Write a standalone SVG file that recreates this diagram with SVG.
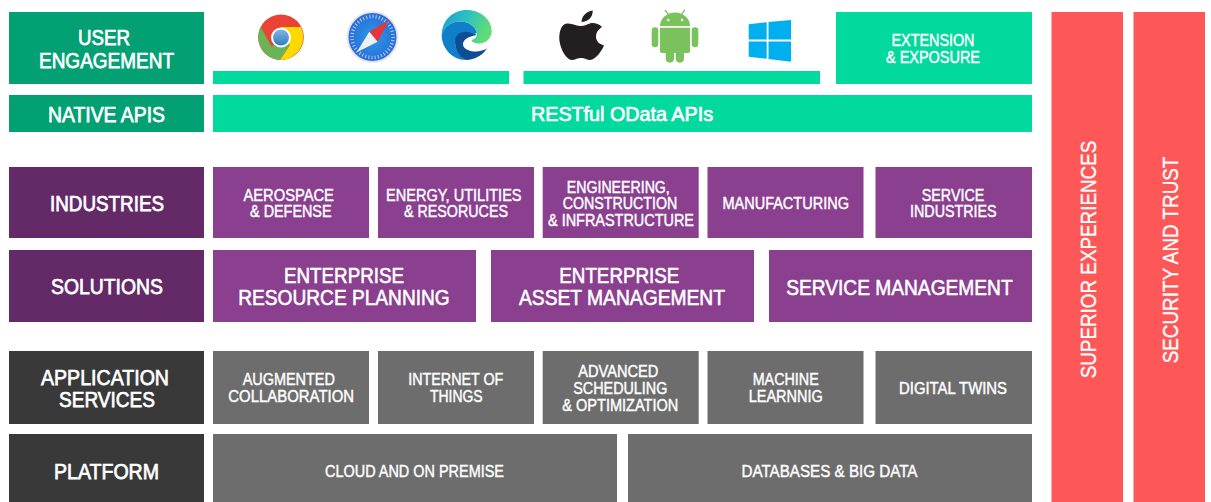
<svg xmlns="http://www.w3.org/2000/svg" width="1211" height="502" viewBox="0 0 1211 502">
<defs>
<linearGradient id="edgeTop" x1="0" y1="0" x2="1" y2="0.300"><stop offset="0" stop-color="#1c9bd2"/><stop offset="0.500" stop-color="#2cbfc4"/><stop offset="1" stop-color="#5fdc78"/></linearGradient>
<radialGradient id="safariBlue"><stop offset="0" stop-color="#23a0e6"/><stop offset="1" stop-color="#2e6bd8"/></radialGradient>
<linearGradient id="chromeDot" x1="0" y1="0" x2="0" y2="1"><stop offset="0" stop-color="#86b4de"/><stop offset="1" stop-color="#2f7cc4"/></linearGradient>
</defs>
<style>
text{font-family:"Liberation Sans",Arial,sans-serif;fill:#fff;stroke:#fff;text-anchor:middle}
.g{fill:#02a073}.m{fill:#01d99d}.pd{fill:#642a68}.p{fill:#8a3f8f}.dk{fill:#393939}.gr{fill:#6d6d6d}.r{fill:#fe5757}
.h{font-size:22px;stroke-width:.75px}.b{font-size:20px;stroke-width:.7px}.s{font-size:17px;stroke-width:.45px}.l{font-size:22px;stroke-width:.6px}.d{font-size:16px;stroke-width:.4px}.v{font-size:22px;stroke-width:.35px}
</style>
<rect width="1211" height="502" fill="#fff"/>
<g id="connectors"/>
<g id="user-engagement"><rect class="g" x="9" y="12" width="195" height="72"/><text class="h" x="104" y="45" textLength="52" lengthAdjust="spacingAndGlyphs">USER</text><text class="h" x="106.500" y="67.500" textLength="135" lengthAdjust="spacingAndGlyphs">ENGAGEMENT</text></g>
<g id="native-apis"><rect class="g" x="9" y="95" width="195" height="37"/><text class="h" x="106.500" y="121.700" textLength="117" lengthAdjust="spacingAndGlyphs">NATIVE APIS</text></g>
<g id="browsers-bar"><rect class="m" x="213" y="71" width="296" height="13"/></g>
<g id="os-bar"><rect class="m" x="523.500" y="71" width="296.500" height="13"/></g>
<g id="chrome">
<circle cx="281" cy="37.200" r="22.800" fill="#ea4335"/>
<path d="M260.700 27A22.800 22.800 0 0 0 280 60L290 45 281 37 271.700 46.700Z" fill="#6ab356"/>
<path d="M281 27H300.800A22.800 22.800 0 0 1 280 60L290 45 281 37Z" fill="#fed900"/>
<circle cx="281" cy="37.500" r="10" fill="#fff"/><circle cx="281" cy="37.500" r="8" fill="url(#chromeDot)"/>
</g>
<g id="safari">
<circle cx="372.500" cy="37" r="26" fill="#e6e6ea"/><circle cx="372.500" cy="37" r="24" fill="url(#safariBlue)"/>
<circle cx="372.500" cy="37" r="20.500" fill="none" stroke="#a9d2f5" stroke-width="3.500" stroke-dasharray="1 2.200"/>
<path d="M389 20 369.300 31.700 377.700 41.700Z" fill="#e8343c"/><path d="M356.700 52.300 369.300 31.700 377.700 41.700Z" fill="#f0f0f0"/>
</g>
<g id="edge">
<path d="M441.700 35C442 20 453 10 467 10 481 10 491.700 20 491.700 31 491.700 38 486 43.500 479 43.500 475 43.500 472 42 471.500 40 475 39 477 37 477 33 475 26 468 21.500 460 21.500 452 21.500 444 26 441.700 35Z" fill="url(#edgeTop)"/>
<path d="M441.700 35C444 26 452 21.500 460 21.500 468 21.500 475 26 477 33L469 36C462 33 457 36 455 41 455 50 460 57 466 60 452 60 441.700 48 441.700 35Z" fill="#0f7fc9"/>
<path d="M455 41C455 35 461 31 468 32 472 33 475 34 477 35 470 36 463 39 463 44 463 50 472 52 477 51.500 481 51 485 50 487 48.300 483 55 475 60 466 60 459 57 455 50 455 41Z" fill="#0d4f94"/>
</g>
<g id="apple" fill="#231f20">
<path d="M581 26C576 26 572 23 567 23.500 561 24 559.300 32 559.300 38 559.300 47 566 60 572 60 575 60 577 58 581 58 585 58 587 60 590 60 596 60 602 50 604 45.500 599 44 596 41 596 36.500 596 32 599 29 602 27 598 23 593 22.500 590 23.500 587 24.500 584 26 581 26Z"/>
<path d="M581.500 22C581.500 16 587 11 592.700 10.500 593 17 588 22 581.500 22Z"/>
</g>
<g id="android" fill="#7ac25c">
<path d="M660 26A15 13.500 0 0 1 690 26Z"/><path d="M660 27.700H690V51A2 2 0 0 1 688 53H662A2 2 0 0 1 660 51Z"/>
<rect x="651.700" y="27.300" width="6.600" height="20" rx="3.300"/><rect x="691.700" y="27.300" width="6.600" height="20" rx="3.300"/>
<rect x="665.700" y="48" width="8.300" height="14.700" rx="4.100"/><rect x="675.700" y="48" width="8.300" height="14.700" rx="4.100"/>
<path d="M668.300 14 665 10M681.700 14 685 10" stroke="#7ac25c" stroke-width="1.200"/>
<circle cx="668.300" cy="20" r="1.200" fill="#fff"/><circle cx="682" cy="20" r="1.200" fill="#fff"/>
</g>
<g id="windows" fill="#00aff0">
<path d="M748.700 24.300 766.700 22.300V39.500H748.700Z"/><path d="M768.500 22 791 20V39.500H768.500Z"/><path d="M748.700 41.500H766.700V58.800L748.700 56.700Z"/><path d="M768.500 41.500H791V61.700L768.500 59Z"/>
</g>
<g id="extension-exposure"><rect class="m" x="836" y="12" width="196" height="72"/><text class="s" x="933" y="46" textLength="83" lengthAdjust="spacingAndGlyphs">EXTENSION</text><text class="s" x="933" y="63" textLength="94" lengthAdjust="spacingAndGlyphs">&amp; EXPOSURE</text></g>
<g id="restful-odata"><rect class="m" x="213" y="95" width="819" height="37"/><text class="b" x="622" y="121" textLength="182" lengthAdjust="spacingAndGlyphs">RESTful OData APIs</text></g>
<g id="industries"><rect class="pd" x="9" y="167" width="195" height="71"/><text class="h" x="107" y="211" textLength="114" lengthAdjust="spacingAndGlyphs">INDUSTRIES</text></g>
<g id="aerospace"><rect class="p" x="213" y="167" width="156" height="71"/><text class="s" x="288.700" y="201" textLength="90.500" lengthAdjust="spacingAndGlyphs">AEROSPACE</text><text class="s" x="290.800" y="217.300" textLength="81.500" lengthAdjust="spacingAndGlyphs">&amp; DEFENSE</text></g>
<g id="energy"><rect class="p" x="378" y="167" width="156" height="71"/><text class="s" x="453.800" y="201" textLength="135.500" lengthAdjust="spacingAndGlyphs">ENERGY, UTILITIES</text><text class="s" x="456" y="217.300" textLength="104" lengthAdjust="spacingAndGlyphs">&amp; RESORUCES</text></g>
<g id="engineering"><rect class="p" x="542.700" y="167" width="156" height="71"/><text class="s" x="618.300" y="193" textLength="103" lengthAdjust="spacingAndGlyphs">ENGINEERING,</text><text class="s" x="620" y="209.300" textLength="114.500" lengthAdjust="spacingAndGlyphs">CONSTRUCTION</text><text class="s" x="621" y="226.300" textLength="146" lengthAdjust="spacingAndGlyphs">&amp; INFRASTRUCTURE</text></g>
<g id="manufacturing"><rect class="p" x="707.500" y="167" width="156" height="71"/><text class="s" x="785.700" y="209.300" textLength="126.500" lengthAdjust="spacingAndGlyphs">MANUFACTURING</text></g>
<g id="service-industries"><rect class="p" x="875.500" y="167" width="156.500" height="71"/><text class="s" x="953" y="201" textLength="62.500" lengthAdjust="spacingAndGlyphs">SERVICE</text><text class="s" x="953.300" y="217.300" textLength="86.500" lengthAdjust="spacingAndGlyphs">INDUSTRIES</text></g>
<g id="solutions"><rect class="pd" x="9" y="250" width="195" height="72"/><text class="h" x="107" y="294" textLength="112" lengthAdjust="spacingAndGlyphs">SOLUTIONS</text></g>
<g id="erp"><rect class="p" x="213" y="250" width="263" height="72"/><text class="l" x="344" y="283.300" textLength="120" lengthAdjust="spacingAndGlyphs">ENTERPRISE</text><text class="l" x="344" y="305.300" textLength="211.500" lengthAdjust="spacingAndGlyphs">RESOURCE PLANNING</text></g>
<g id="eam"><rect class="p" x="491" y="250" width="263" height="72"/><text class="l" x="619.300" y="283.300" textLength="120" lengthAdjust="spacingAndGlyphs">ENTERPRISE</text><text class="l" x="622" y="305.300" textLength="206" lengthAdjust="spacingAndGlyphs">ASSET MANAGEMENT</text></g>
<g id="service-management"><rect class="p" x="769" y="250" width="263" height="72"/><text class="l" x="899.400" y="294.500" textLength="226.500" lengthAdjust="spacingAndGlyphs">SERVICE MANAGEMENT</text></g>
<g id="application-services"><rect class="dk" x="9" y="351" width="195" height="73"/><text class="h" x="105" y="384.500" textLength="128" lengthAdjust="spacingAndGlyphs">APPLICATION</text><text class="h" x="107" y="406.500" textLength="96" lengthAdjust="spacingAndGlyphs">SERVICES</text></g>
<g id="augmented"><rect class="gr" x="213" y="351" width="156" height="73"/><text class="s" x="288.800" y="385.300" textLength="92.300" lengthAdjust="spacingAndGlyphs">AUGMENTED</text><text class="s" x="291.200" y="402.300" textLength="125.700" lengthAdjust="spacingAndGlyphs">COLLABORATION</text></g>
<g id="iot"><rect class="gr" x="378" y="351" width="156" height="73"/><text class="s" x="455.800" y="385.300" textLength="95" lengthAdjust="spacingAndGlyphs">INTERNET OF</text><text class="s" x="456.300" y="402.300" textLength="52.700" lengthAdjust="spacingAndGlyphs">THINGS</text></g>
<g id="scheduling"><rect class="gr" x="542.700" y="351" width="156" height="73"/><text class="s" x="618.300" y="377.300" textLength="80" lengthAdjust="spacingAndGlyphs">ADVANCED</text><text class="s" x="620.300" y="394.300" textLength="94" lengthAdjust="spacingAndGlyphs">SCHEDULING</text><text class="s" x="620.300" y="411" textLength="116" lengthAdjust="spacingAndGlyphs">&amp; OPTIMIZATION</text></g>
<g id="machine-learning"><rect class="gr" x="707.500" y="351" width="156" height="73"/><text class="s" x="785.700" y="385.300" textLength="66" lengthAdjust="spacingAndGlyphs">MACHINE</text><text class="s" x="785.700" y="402.300" textLength="74" lengthAdjust="spacingAndGlyphs">LEARNNIG</text></g>
<g id="digital-twins"><rect class="gr" x="875.500" y="351" width="156.500" height="73"/><text class="s" x="953" y="394" textLength="108" lengthAdjust="spacingAndGlyphs">DIGITAL TWINS</text></g>
<g id="platform"><rect class="dk" x="9" y="434" width="195" height="68"/><text class="h" x="106.500" y="478.500" textLength="105" lengthAdjust="spacingAndGlyphs">PLATFORM</text></g>
<g id="cloud"><rect class="gr" x="213" y="434" width="404" height="68"/><text class="d" x="414.500" y="476.700" textLength="179" lengthAdjust="spacingAndGlyphs">CLOUD AND ON PREMISE</text></g>
<g id="databases"><rect class="gr" x="628" y="434" width="404" height="68"/><text class="d" x="829.500" y="476.700" textLength="176" lengthAdjust="spacingAndGlyphs">DATABASES &amp; BIG DATA</text></g>
<g id="superior-experiences"><rect class="r" x="1051.500" y="12" width="71.500" height="490"/><text class="v" transform="translate(1096 259.500) rotate(-90)" textLength="237.700" lengthAdjust="spacingAndGlyphs">SUPERIOR EXPERIENCES</text></g>
<g id="security-trust"><rect class="r" x="1133.500" y="12" width="71.500" height="490"/><text class="v" transform="translate(1178.300 260) rotate(-90)" textLength="206.700" lengthAdjust="spacingAndGlyphs">SECURITY AND TRUST</text></g>
</svg>
